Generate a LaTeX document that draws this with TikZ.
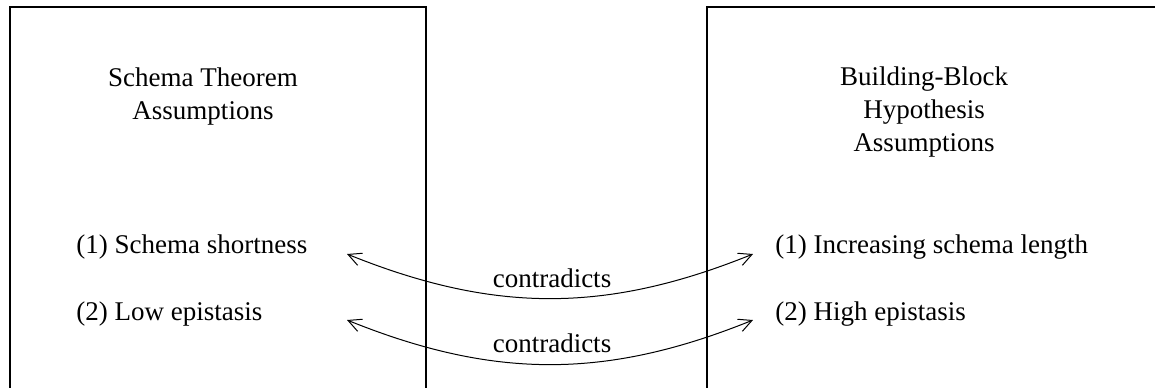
\documentclass[tikz,border=0pt]{standalone}
\usepackage{fontspec}
\setmainfont{Liberation Serif}
\usetikzlibrary{arrows.meta}

\tikzset{
  txt/.style={font=\fontsize{13.5}{16.5}\selectfont, inner sep=0pt},
  contra/.style={{Straight Barb[length=6.5pt,width=6.5pt]}-{Straight Barb[length=6.5pt,width=6.5pt]}, line width=0.5pt},
}

\begin{document}
\begin{tikzpicture}[x=0.5pt, y=-0.5pt]
\useasboundingbox (0,0) rectangle (1155,387);

% left box, open at the bottom
\draw[line width=0.6pt] (10,400) -- (10,7) -- (426,7) -- (426,400);
\node[txt, align=center] (lhead) at (203,96) {Schema Theorem\\Assumptions};
\node[txt, anchor=west] (lone) at (76,247) {(1) Schema shortness};
\node[txt, anchor=west] (ltwo) at (76,314) {(2) Low epistasis};

% right box, runs past the page
\draw[line width=0.6pt] (707,400) -- (707,7) -- (1170,7);
\node[txt, align=center] (rhead) at (924,112) {Building-Block\\Hypothesis\\Assumptions};
\node[txt, anchor=west] (rone) at (775,247) {(1) Increasing schema length};
\node[txt, anchor=west] (rtwo) at (775,314) {(2) High epistasis};

% arrow ends
\coordinate (lonex) at (347,254);
\coordinate (ronex) at (753,254);
\coordinate (ltwox) at (347,320);
\coordinate (rtwox) at (753,320);

\draw[contra] (lonex) to[bend right=22] (ronex);
\draw[contra] (ltwox) to[bend right=22] (rtwox);

\node[txt] (cone) at (552,278) {contradicts};
\node[txt] (ctwo) at (552,343) {contradicts};
\end{tikzpicture}
\end{document}
